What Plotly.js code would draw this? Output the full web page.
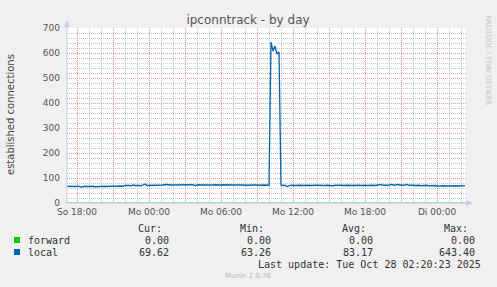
<!DOCTYPE html>
<html>
<head>
<meta charset="utf-8">
<script src="https://cdn.plot.ly/plotly-3.0.1.min.js"></script>
<style>
html,body{margin:0;padding:0;background:#F0F0F0;}
#chart{width:497px;height:287px;}
</style>
</head>
<body>
<div id="chart"></div>
<script>
// ---- data (10-minute samples, starting 2025-10-26 17:10) ----
const seriesStart = '2025-10-26 17:10:00';
const seriesStepMinutes = 10;
const localValues = [
  67,66,65,67,66,
  66,67,63.26,66,67,66,
  67,66,67,65,66,67,
  66,68,67,66,65,67,
  67,66,67,68,66,67,
  70,71,70,69,72,70,
  71,70,69,71,76,70,
  70,71,72,73,72,72,
  73,72,74,72,73,72,
  72,71,73,72,74,72,
  72,73,71,72,73,70,
  72,73,72,71,73,72,
  72,71,72,73,72,71,
  72,73,72,71,73,72,
  72,71,73,72,72,71,
  73,72,71,72,73,72,
  72,71,72,73,72,71,
  71,643.40,608,628,596,604,
  72,70,71,66,70,71,
  70,71,72,70,71,70,
  71,72,71,70,72,71,
  71,70,72,71,70,71,
  70,71,69,71,72,70,
  71,70,71,72,71,70,
  71,72,70,71,70,72,
  71,70,71,72,71,70,
  72,71,74,71,70,72,
  71,74,72,71,74,72,
  73,71,72,74,71,72,
  71,70,72,71,69,70,
  70,71,69,70,72,70,
  68,67,68,69,67,68,
  68,69,67,68,69,68,
  69,68,69.62
];
const forwardTimes = ['2025-10-26 17:10:00', '2025-10-28 02:20:00'];
const forwardValues = [0, 0];

const tickVals = ['2025-10-26 18:00','2025-10-26 21:00','2025-10-27 00:00','2025-10-27 03:00',
  '2025-10-27 06:00','2025-10-27 09:00','2025-10-27 12:00','2025-10-27 15:00',
  '2025-10-27 18:00','2025-10-27 21:00','2025-10-28 00:00'];
const tickText = ['So 18:00','','Mo 00:00','','Mo 06:00','','Mo 12:00','','Mo 18:00','','Di 00:00'];

const legendNames = ['forward','local'];
const legendColors = ['#00CC00','#0066B3'];
const curVals = ['0.00','69.62'];
const minVals = ['0.00','63.26'];
const avgVals = ['0.00','83.17'];
const maxVals = ['0.00','643.40'];

// ---- build times ----
function fmt(ms){ return new Date(ms).toISOString().slice(0,19).replace('T',' '); }
const t0 = Date.parse(seriesStart.replace(' ','T')+'Z');
const localTimes = localValues.map((v,i)=>fmt(t0 + i*seriesStepMinutes*60000));

// ---- geometry ----
const W=497,H=287,L=67,R=466,T=28,B=203;
const px = p => (p-L)/(R-L);
const py = p => (B-p)/(B-T);

const mono = {family:'DejaVu Sans Mono, monospace', size:10, color:'#333'};
const ann = [];
function txt(text,x,y,xanchor,font,extra){
  ann.push(Object.assign({text:text,xref:'paper',yref:'paper',x:px(x),y:py(y),
    xanchor:xanchor,yanchor:'middle',showarrow:false,font:font}, extra||{}));
}
txt('established connections',10,115,'center',{family:'DejaVu Sans',size:10,color:'#444'},{textangle:-90});
txt('Cur:',164,228,'right',mono);
txt('Min:',266,228,'right',mono);
txt('Avg:',368,228,'right',mono);
txt('Max:',470,228,'right',mono);
const rowsY=[240,252];
legendNames.forEach((n,k)=>{
  txt(n,26,rowsY[k],'left',mono);
  txt(curVals[k],171,rowsY[k],'right',mono);
  txt(minVals[k],273,rowsY[k],'right',mono);
  txt(avgVals[k],375,rowsY[k],'right',mono);
  txt(maxVals[k],477,rowsY[k],'right',mono);
});
txt('Last update: Tue Oct 28 02:20:23 2025',483,264,'right',mono);
txt('Munin 2.0.76',248,276,'center',{family:'DejaVu Sans',size:7,color:'#bbbbbb'});
txt('RRDTOOL / TOBI OETIKER',488,60,'center',{family:'DejaVu Sans',size:7,color:'#c4c4c4'},{textangle:90});

const axisCol='#C8CCF0';
const shapes=[
  {type:'line',xref:'paper',yref:'paper',x0:px(67),x1:px(67),y0:py(203),y1:py(22),line:{color:axisCol,width:1}},
  {type:'path',xref:'paper',yref:'paper',path:`M ${px(64)} ${py(27)} L ${px(70)} ${py(27)} L ${px(67)} ${py(20)} Z`,fillcolor:axisCol,line:{width:0}},
  {type:'line',xref:'paper',yref:'paper',x0:px(67),x1:px(470),y0:py(203),y1:py(203),line:{color:axisCol,width:1}},
  {type:'path',xref:'paper',yref:'paper',path:`M ${px(466)} ${py(200)} L ${px(466)} ${py(206)} L ${px(473)} ${py(203)} Z`,fillcolor:axisCol,line:{width:0}}
];
legendColors.forEach((c,k)=>{
  shapes.push({type:'rect',xref:'paper',yref:'paper',x0:px(14),x1:px(20),y0:py(rowsY[k]-3),y1:py(rowsY[k]+3),fillcolor:c,line:{width:0}});
});

const traces=[
  {x:forwardTimes,y:forwardValues,type:'scatter',mode:'lines',name:'forward',line:{color:'#00CC00',width:1.2},hoverinfo:'skip'},
  {x:localTimes,y:localValues,type:'scatter',mode:'lines',name:'local',line:{color:'#0066B3',width:1.3},hoverinfo:'skip'}
];

const majorGrid='rgba(225,120,120,0.75)';
const minorGrid='rgba(170,170,170,0.7)';
const layout={
  width:W,height:H,
  paper_bgcolor:'#F0F0F0',plot_bgcolor:'#FFFFFF',
  margin:{l:L,r:W-R,t:T,b:H-B,pad:0},
  showlegend:false,
  title:{text:'ipconntrack - by day',x:248/W,xanchor:'center',xref:'container',y:1-19.5/H,yanchor:'middle',yref:'container',
    font:{family:'DejaVu Sans',size:12,color:'#555'}},
  xaxis:{type:'date',range:['2025-10-26 17:10','2025-10-28 02:25'],
    tickmode:'array',tickvals:tickVals,ticktext:tickText,
    showgrid:true,gridcolor:majorGrid,griddash:'1px,1px',gridwidth:1,
    minor:{tickmode:'linear',tick0:'2025-10-26 17:00',dtick:3600000,showgrid:true,gridcolor:minorGrid,griddash:'1px,1px',gridwidth:1},
    showline:false,zeroline:false,ticks:'',ticklabelstandoff:2,
    tickfont:{family:'DejaVu Sans',size:9,color:'#555'},automargin:false,fixedrange:true},
  yaxis:{range:[0,700],tickmode:'linear',tick0:0,dtick:100,
    showgrid:true,gridcolor:majorGrid,griddash:'1px,1px',gridwidth:1,
    minor:{tickmode:'linear',tick0:0,dtick:20,showgrid:true,gridcolor:minorGrid,griddash:'1px,1px',gridwidth:1},
    showline:false,zeroline:false,ticks:'',ticklabelstandoff:6,
    tickfont:{family:'DejaVu Sans',size:9,color:'#555'},automargin:false,fixedrange:true},
  annotations:ann,shapes:shapes
};
Plotly.newPlot('chart',traces,layout,{staticPlot:true,displayModeBar:false});
</script>
</body>
</html>
